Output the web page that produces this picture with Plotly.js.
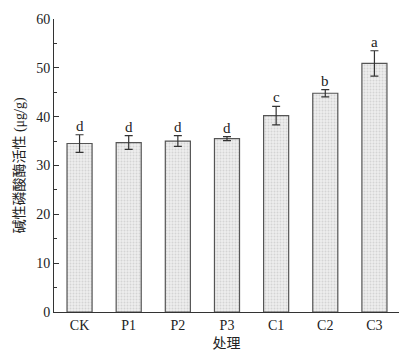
<!DOCTYPE html>
<html><head><meta charset="utf-8">
<script src="https://cdn.plot.ly/plotly-3.0.1.min.js"></script>
<style>html,body{margin:0;padding:0;background:#fff;}#chart{width:417px;height:356px;}</style>
</head><body><div id="chart"></div>
<script>
const categories = ["CK","P1","P2","P3","C1","C2","C3"];
const values = [34.5, 34.7, 35.0, 35.5, 40.2, 44.8, 50.9];
const errors = [1.8, 1.4, 1.1, 0.4, 1.9, 0.75, 2.6];
const letters = ["d","d","d","d","c","b","a"];
const yTicks = [0,10,20,30,40,50,60];

const serif = "Liberation Serif, Times New Roman, serif";
const cjk = "Liberation Serif, Noto Sans CJK SC, serif";

const trace = {
  type: "bar",
  x: categories,
  y: values,
  width: 0.51,
  marker: {
    color: "#ebebeb",
    line: {color: "#555555", width: 1.2},
    pattern: {shape: ".", size: 3, solidity: 0.35, fgcolor: "#d4d4d4", bgcolor: "#efefef", fillmode: "replace"}
  },
  error_y: {type: "data", array: errors, visible: true, color: "#333333", thickness: 1.2, width: 4},
  hoverinfo: "none"
};

const annotations = categories.map((c, i) => ({
  x: c, y: values[i] + errors[i], text: letters[i], showarrow: false,
  yanchor: "bottom", yshift: -1, font: {family: serif, size: 15, color: "#222"}
}));

Plotly.newPlot("chart", [trace], {
  width: 417, height: 356,
  margin: {l: 54, r: 18, t: 19, b: 44},
  paper_bgcolor: "#fff", plot_bgcolor: "#fff",
  showlegend: false,
  annotations: annotations,
  xaxis: {
    range: [-0.52, 6.5], showline: true, linecolor: "#333", linewidth: 1,
    ticks: "", showgrid: false, zeroline: false,
    tickfont: {family: serif, size: 14, color: "#222"},
    title: {text: "处理", font: {family: cjk, size: 14, color: "#222"}, standoff: 6}
  },
  yaxis: {
    range: [0, 60], tickvals: yTicks, showline: true, linecolor: "#333", linewidth: 1,
    ticks: "inside", ticklen: 5, tickcolor: "#333", showgrid: false, zeroline: false,
    minor: {dtick: 5, ticks: "inside", ticklen: 3, tickcolor: "#333"},
    tickfont: {family: serif, size: 14, color: "#222"},
    title: {text: "碱性磷酸酶活性 (μg/g)", font: {family: cjk, size: 14, color: "#222"}, standoff: 8}
  }
}, {staticPlot: true});
</script></body></html>
